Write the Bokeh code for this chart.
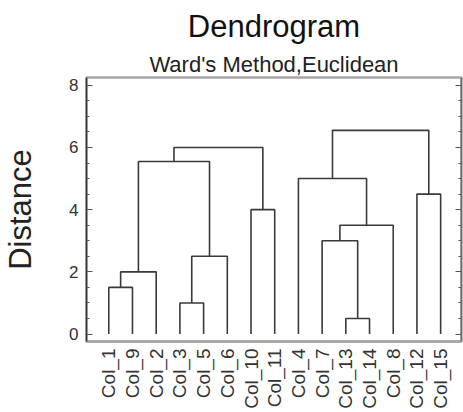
import math
from bokeh.plotting import figure
from bokeh.layouts import column
from bokeh.models import (Range1d, FixedTicker, LinearAxis, Title, ColumnDataSource)
from bokeh.core.properties import value
from bokeh.embed import file_html
from bokeh.resources import INLINE

# ---- data ----
leaf_labels = ["Col_1", "Col_9", "Col_2", "Col_3", "Col_5", "Col_6", "Col_10", "Col_11",
               "Col_4", "Col_7", "Col_13", "Col_14", "Col_8", "Col_12", "Col_15"]
# merges: node ids 0..14 are leaves; each merge creates node 15, 16, ...
merge_left = [10, 3, 0, 17, 16, 9, 20, 6, 13, 8, 18, 25, 24]
merge_right = [11, 4, 1, 2, 5, 15, 12, 7, 14, 21, 19, 22, 23]
merge_height = [0.5, 1.0, 1.5, 2.0, 2.5, 3.0, 3.5, 4.0, 4.5, 5.0, 5.55, 6.0, 6.55]
y_major_ticks = [0, 2, 4, 6, 8]
y_minor_ticks = [0.5, 1, 1.5, 2.5, 3, 3.5, 4.5, 5, 5.5, 6.5, 7, 7.5]

# ---- build link coordinates from the data ----
leaf_pos = list(range(1, len(leaf_labels) + 1))
node_x = [float(v) for v in leaf_pos]
node_y = [0.0] * len(leaf_labels)
xs, ys = [], []
for a, b, h in zip(merge_left, merge_right, merge_height):
    xa0, ya0, xb0, yb0 = node_x[a], node_y[a], node_x[b], node_y[b]
    xs.append([xa0, xa0, xb0, xb0])
    ys.append([ya0, h, h, yb0])
    node_x.append((xa0 + xb0) / 2.0)
    node_y.append(h)

src = ColumnDataSource(dict(xs=xs, ys=ys))

FONT = "Liberation Sans"
DARK = "#333333"
GRAY = "#a6a6a6"
W = 463
H_TOP = 344
H_LAB = 68
LEFT = 85
RIGHT = 2
X0, X1 = 0.06, 15.88

xr = Range1d(X0, X1)

p = figure(width=W, height=H_TOP, output_backend="svg", toolbar_location=None,
           x_range=xr, y_range=Range1d(-0.24, 8.25),
           min_border_left=LEFT, min_border_right=RIGHT, min_border_bottom=3, min_border_top=77,
           background_fill_color="white", border_fill_color="white")

p.multi_line(xs="xs", ys="ys", source=src, line_color="#3a3a3a", line_width=1.6)

p.xgrid.visible = False
p.ygrid.visible = False
p.outline_line_color = GRAY
p.outline_line_width = 2.5

# x axis: only the baseline
xa = p.xaxis[0]
xa.ticker = FixedTicker(ticks=[])
xa.major_tick_line_color = None
xa.minor_tick_line_color = None
xa.axis_line_color = GRAY
xa.axis_line_width = 2.5

# y axis
ya_ = p.yaxis[0]
ya_.ticker = FixedTicker(ticks=y_major_ticks, minor_ticks=y_minor_ticks)
ya_.axis_label = "Distance"
ya_.axis_label_text_font = FONT
ya_.axis_label_text_font_size = "31px"
ya_.axis_label_text_font_style = "normal"
ya_.axis_label_text_color = "#222222"
ya_.axis_label_standoff = 28
ya_.major_label_text_font = FONT
ya_.major_label_text_font_size = "17px"
ya_.major_label_text_color = "#333333"
ya_.major_label_standoff = 8
ya_.axis_line_color = DARK
ya_.axis_line_width = 1.5
ya_.major_tick_in = 6
ya_.major_tick_out = 0
ya_.minor_tick_in = 3
ya_.minor_tick_out = 0
ya_.major_tick_line_color = "#555555"
ya_.minor_tick_line_color = "#555555"

# mirrored right axis (ticks only), pinned to the right edge of the frame
ra = LinearAxis(ticker=FixedTicker(ticks=y_major_ticks, minor_ticks=y_minor_ticks),
                fixed_location=X1)
ra.major_label_overrides = {t: "" for t in y_major_ticks}
ra.major_label_text_font_size = "1px"
ra.major_label_standoff = 0
ra.major_tick_in = 6
ra.major_tick_out = 0
ra.minor_tick_in = 3
ra.minor_tick_out = 0
ra.axis_line_color = DARK
ra.axis_line_width = 1.5
ra.major_tick_line_color = "#555555"
ra.minor_tick_line_color = "#555555"
p.add_layout(ra, "right")

# titles
sub = Title(text="Ward's Method,Euclidean", align="center", text_font=FONT,
            text_font_size="22px", text_font_style="normal", text_color="#222222",
            standoff=1)
p.add_layout(sub, "above")
main = Title(text="Dendrogram", align="center", text_font=FONT,
             text_font_size="31px", text_font_style="normal", text_color="#111111",
             standoff=12)
p.add_layout(main, "above")

# ---- leaf names strip ----
q = figure(width=W, height=H_LAB, output_backend="svg", toolbar_location=None,
           x_range=xr, y_range=Range1d(0, 1), x_axis_type=None, y_axis_type=None,
           min_border_left=LEFT, min_border_right=RIGHT, min_border_bottom=0, min_border_top=0,
           outline_line_color=None, background_fill_color="white", border_fill_color="white")
q.xgrid.visible = False
q.ygrid.visible = False

lab_src = ColumnDataSource(dict(x=leaf_pos, y=[1 - 4.0 / H_LAB] * len(leaf_pos), text=leaf_labels))
q.text(x="x", y="y", text="text", source=lab_src, angle=math.pi / 2,
       text_align="right", text_baseline="middle",
       text_font=value(FONT), text_font_size=value("19px"), text_color="#333333")

layout = column(p, q, spacing=0)
open("out.html", "w").write(file_html(layout, INLINE))
